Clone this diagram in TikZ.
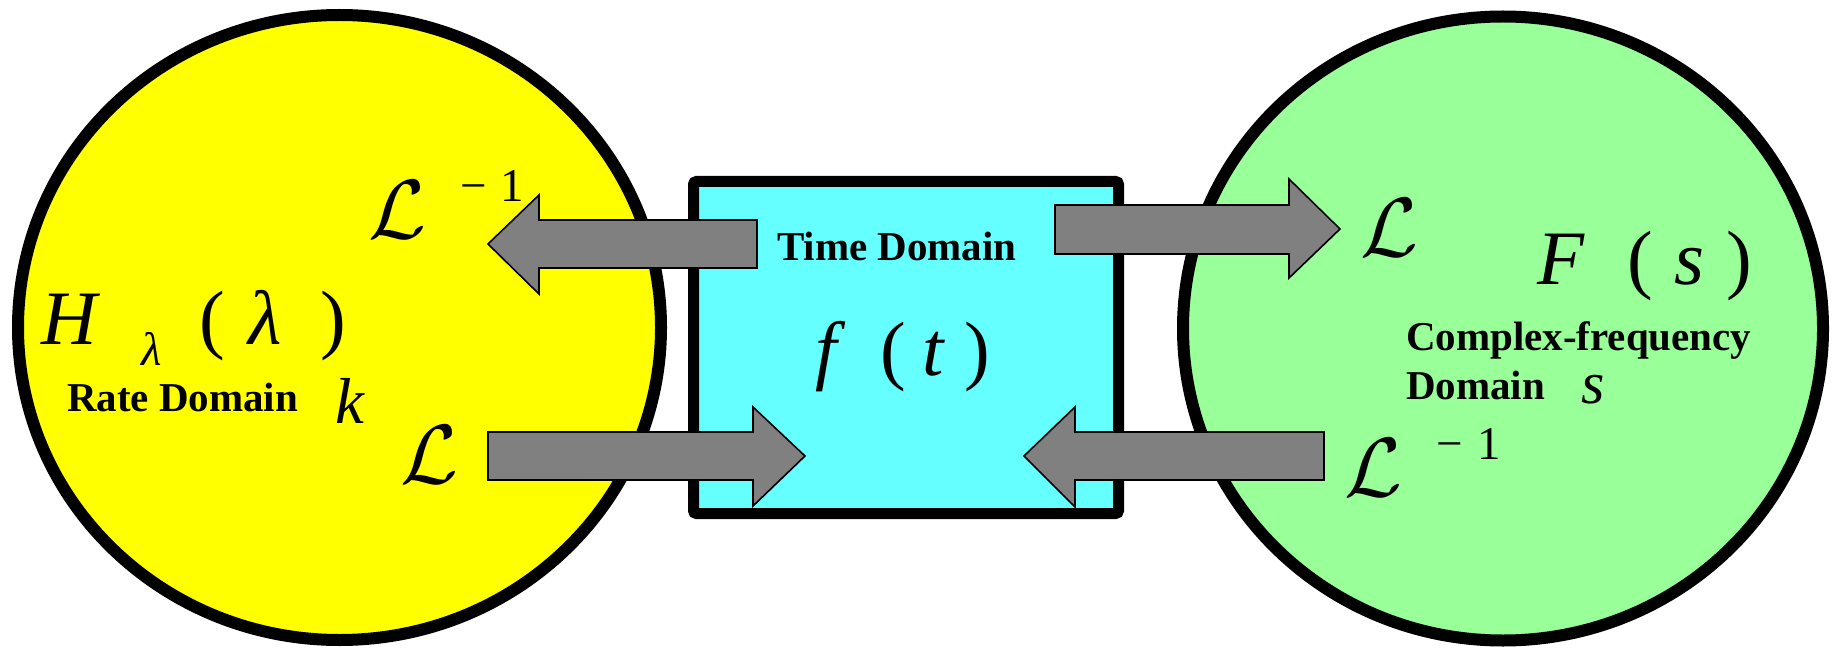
\RequirePackage{fix-cm}
\documentclass[tikz,border=0pt]{standalone}
\usepackage{fontspec}
\setmainfont{Liberation Serif}[ItalicFont={Liberation Serif Italic}, BoldFont={Liberation Serif Bold}]
\definecolor{rateyellow}{HTML}{FFFF00}
\definecolor{timecyan}{HTML}{66FFFF}
\definecolor{freqgreen}{HTML}{99FF99}
\definecolor{arrowgray}{HTML}{808080}
\tikzset{
  domainshape/.style={draw=black, line width=12pt},
  blockarrow/.style={fill=arrowgray, draw=black, line width=1.6pt, line join=miter},
  lbl/.style={inner sep=0pt, outer sep=0pt, anchor=base west, font=\fontsize{41}{41}\selectfont\bfseries},
  bigmath/.style={inner sep=0pt, outer sep=0pt, anchor=base, font=\fontsize{77}{77}\selectfont\itshape},
  bigparen/.style={inner sep=0pt, outer sep=0pt, anchor=base, font=\fontsize{77}{77}\selectfont},
  midmath/.style={inner sep=0pt, outer sep=0pt, anchor=base, font=\fontsize{65}{65}\selectfont\itshape},
  smallmath/.style={inner sep=0pt, outer sep=0pt, anchor=base, font=\fontsize{60}{60}\selectfont\itshape},
  submath/.style={inner sep=0pt, outer sep=0pt, anchor=base, font=\fontsize{47}{47}\selectfont\itshape},
  supnum/.style={inner sep=0pt, outer sep=0pt, anchor=base, font=\fontsize{47}{47}\selectfont},
  laplace/.style={inner sep=0pt, outer sep=0pt, anchor=base, font=\fontsize{84}{84}\selectfont}
}
\begin{document}
\begin{tikzpicture}[x=1pt,y=-1pt]
\useasboundingbox (0,0) rectangle (1836,655);
% domains
\filldraw[domainshape, fill=rateyellow] (339.5,327.5) ellipse [x radius=321.5pt, y radius=312.5pt];
\filldraw[domainshape, fill=freqgreen] (1503,328.5) ellipse [x radius=320pt, y radius=312pt];
\filldraw[fill=timecyan, draw=black, line width=11pt, rounded corners=3pt] (693.5,181.5) rectangle (1118.5,513.5);
% block arrows
\filldraw[blockarrow] (757,220) -- (539,220) -- (539,195) -- (488,244) -- (539,294) -- (539,268) -- (757,268) -- cycle;
\filldraw[blockarrow] (488,432) -- (753,432) -- (753,407) -- (805,456) -- (753,506) -- (753,480) -- (488,480) -- cycle;
\filldraw[blockarrow] (1055,205) -- (1289,205) -- (1289,179) -- (1340,229) -- (1289,278) -- (1289,254) -- (1055,254) -- cycle;
\filldraw[blockarrow] (1324,432) -- (1075,432) -- (1075,407) -- (1024,456) -- (1075,507) -- (1075,480) -- (1324,480) -- cycle;
% rate domain
\node[bigmath] (H) at (69,344) {H};
\node[submath] (Hsub) at (152,365) {λ};
\node[bigparen] (Hlp) at (212,344) {(};
\node[bigmath] (Hlam) at (265,344) {λ};
\node[bigparen] (Hrp) at (333,344) {)};
\node[lbl] (ratelbl) at (67,411) {Rate Domain};
\node[midmath] (kvar) at (350,423) {k};
\node[laplace] (Linvl) at (397,239) {$\mathcal{L}$};
\node[supnum] (Linvlm) at (474,202) {−};
\node[supnum] (Linvlo) at (512,202) {1};
\node[laplace] (Ll) at (429,483) {$\mathcal{L}$};
% time domain
\node[lbl] (timelbl) at (777,260) {Time Domain};
\node[bigmath] (fvar) at (826,375) {f};
\node[bigparen] (flp) at (893,375) {(};
\node[bigmath] (tvar) at (933,375) {t};
\node[bigparen] (frp) at (977,375) {)};
% frequency domain
\node[laplace] (Lr) at (1389,256) {$\mathcal{L}$};
\node[bigmath] (Fvar) at (1561,284) {F};
\node[bigparen] (Flp) at (1640,284) {(};
\node[bigmath] (svar) at (1689,284) {s};
\node[bigparen] (Frp) at (1739,284) {)};
\node[lbl] (freqlbl) at (1406,350) {Complex-frequency};
\node[lbl] (domlbl) at (1406,399) {Domain};
\node[smallmath] (sdom) at (1593,403) {s};
\node[laplace] (Linvr) at (1373,496) {$\mathcal{L}$};
\node[supnum] (Linvrm) at (1450,459) {−};
\node[supnum] (Linvro) at (1489,459) {1};
\end{tikzpicture}
\end{document}
